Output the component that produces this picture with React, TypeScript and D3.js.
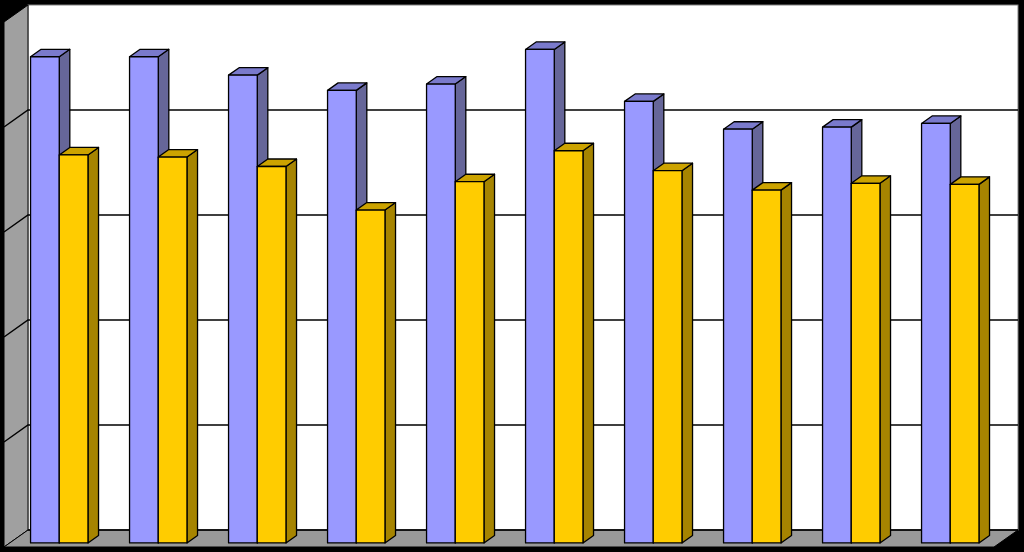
import React, { useEffect, useRef } from 'react';
import * as d3 from 'd3';

// categories and the two series (axis 0..100, grid every 20)
const categories = ['1', '2', '3', '4', '5', '6', '7', '8', '9', '10'];
const seriesNames = ['Series 1', 'Series 2'];
const series1 = [92.6, 92.6, 89.1, 86.2, 87.4, 94.0, 84.1, 78.8, 79.2, 79.9];
const series2 = [73.9, 73.5, 71.7, 63.4, 68.8, 74.7, 70.9, 67.2, 68.5, 68.3];
const yTicks = [0, 20, 40, 60, 80, 100];

const W = 1024;
const H = 552;

// colors for front / top / side faces
const palette = [
  { front: '#9999ff', top: '#7a7acc', side: '#666699' },
  { front: '#ffcc00', top: '#cca300', side: '#a68400' },
];

const App: React.FC = () => {
  const svgRef = useRef<SVGSVGElement>(null);

  useEffect(() => {
    document.body.style.margin = '0';
    document.body.style.background = '#000';
    if (!svgRef.current) return;

    const svg = d3.select(svgRef.current);
    svg.selectAll('*').remove();

    // back wall box
    const left = 28, right = 1018, top = 5, bottom = 530;
    // depth vector, back (z=0) to front (z=1)
    const DX = -24, DY = 17;
    const px = (x: number, z: number) => x + DX * z;
    const py = (y: number, z: number) => y + DY * z;

    const x = d3.scaleBand<string>()
      .domain(categories)
      .range([left, right])
      .paddingInner(0.42)
      .paddingOuter(0.21);
    const xSub = d3.scaleBand<string>()
      .domain(seriesNames)
      .range([0, x.bandwidth()]);
    const y = d3.scaleLinear().domain([0, 100]).range([bottom, top]);

    svg.append('rect').attr('width', W).attr('height', H).attr('fill', '#000');

    // back wall
    svg.append('rect')
      .attr('x', left).attr('y', top)
      .attr('width', right - left).attr('height', bottom - top)
      .attr('fill', '#fff').attr('stroke', '#808080').attr('stroke-width', 1);

    const poly = (pts: [number, number][]) => pts.map(p => p.join(',')).join(' ');

    // left wall
    svg.append('polygon')
      .attr('points', poly([
        [left, top], [left, bottom], [px(left, 1), py(bottom, 1)], [px(left, 1), py(top, 1)],
      ]))
      .attr('fill', '#a0a0a0').attr('stroke', '#000').attr('stroke-width', 1);

    // floor
    svg.append('polygon')
      .attr('points', poly([
        [left, bottom], [right, bottom], [px(right, 1), py(bottom, 1)], [px(left, 1), py(bottom, 1)],
      ]))
      .attr('fill', '#999999').attr('stroke', '#000').attr('stroke-width', 1);

    // gridlines on back wall and left wall
    const grid = svg.append('g').attr('stroke', '#000').attr('stroke-width', 1.5).attr('fill', 'none');
    yTicks.filter(t => t > 0 && t < 100).forEach(t => {
      const yy = y(t);
      grid.append('polyline')
        .attr('points', poly([[px(left, 1), py(yy, 1)], [left, yy], [right, yy]]));
    });
    grid.append('line')
      .attr('x1', left).attr('y1', bottom).attr('x2', right).attr('y2', bottom);

    // bars
    const z0 = 0.32, z1 = 0.76;
    const bars = svg.append('g')
      .attr('stroke', '#000').attr('stroke-width', 1.3).attr('stroke-linejoin', 'round');

    categories.forEach((c, i) => {
      [series1[i], series2[i]].forEach((v, s) => {
        const col = palette[s];
        const x0 = (x(c) as number) + (xSub(seriesNames[s]) as number);
        const x1 = x0 + xSub.bandwidth();
        const yT = y(v);
        const yB = y(0);
        // side face
        bars.append('polygon')
          .attr('fill', col.side)
          .attr('points', poly([
            [px(x1, z1), py(yT, z1)], [px(x1, z0), py(yT, z0)],
            [px(x1, z0), py(yB, z0)], [px(x1, z1), py(yB, z1)],
          ]));
        // top face
        bars.append('polygon')
          .attr('fill', col.top)
          .attr('points', poly([
            [px(x0, z1), py(yT, z1)], [px(x1, z1), py(yT, z1)],
            [px(x1, z0), py(yT, z0)], [px(x0, z0), py(yT, z0)],
          ]));
        // front face
        bars.append('rect')
          .attr('fill', col.front)
          .attr('x', px(x0, z1)).attr('y', py(yT, z1))
          .attr('width', x1 - x0).attr('height', yB - yT);
      });
    });
  }, []);

  return <svg ref={svgRef} width={W} height={H} style={{ display: 'block' }} />;
};

export default App;
